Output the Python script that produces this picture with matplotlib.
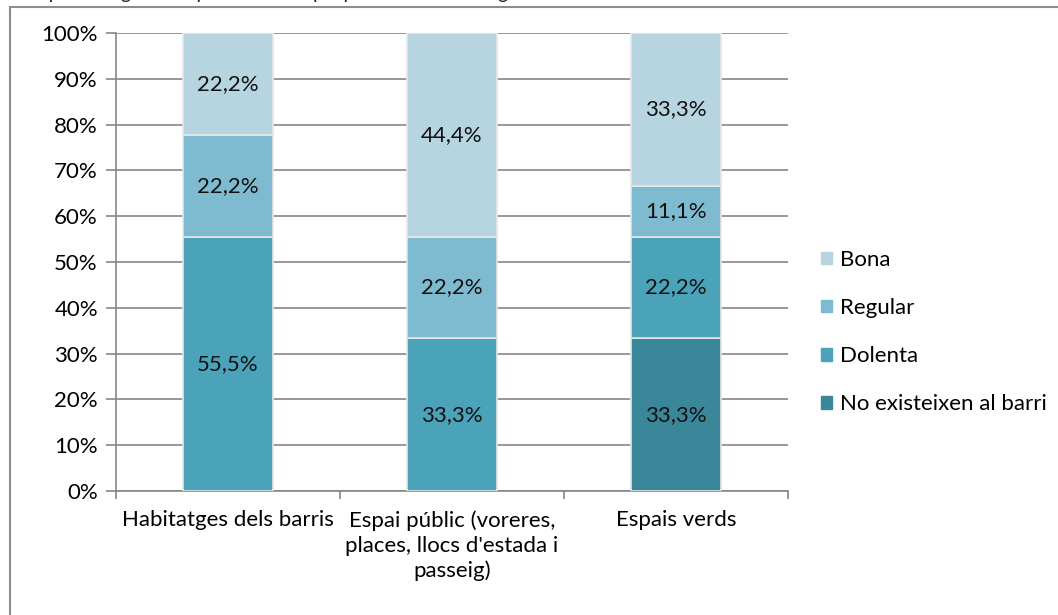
import matplotlib
matplotlib.use('Agg')
import matplotlib.pyplot as plt
from matplotlib.patches import Rectangle, Patch
import numpy as np

plt.rcParams['font.family'] = ['Lato', 'DejaVu Sans']

# dades
categories = ['Habitatges dels barris',
              "Espai públic (voreres,\nplaces, llocs d'estada i\npasseig)",
              'Espais verds']
series = ['No existeixen al barri', 'Dolenta', 'Regular', 'Bona']
no_existeixen = [0.0, 0.0, 33.3]
dolenta = [55.5, 33.3, 22.2]
regular = [22.2, 22.2, 11.1]
bona = [22.2, 44.4, 33.3]
colors = ['#3a8799', '#4ba3ba', '#7fbbd0', '#b7d5e0']
y_ticks = [0, 10, 20, 30, 40, 50, 60, 70, 80, 90, 100]

values = np.array([no_existeixen, dolenta, regular, bona])
totals = values.sum(axis=0)
pct = values / totals * 100

FS = 16

fig = plt.figure(figsize=(10.58, 6.15), dpi=100)
ax = fig.add_axes([0.1096, 0.2016, 0.6352, 0.7447])

# marc exterior
fig.patches.append(Rectangle((10 / 1058, -0.05), 1.1, 1 - 7 / 615 + 0.05,
                             transform=fig.transFigure, fill=False,
                             edgecolor='#8c8c8c', lw=1.5))
# títol (tallat a la part superior, com a l'original)
fig.text(0.0, 1 + 1 / 615, "Percepció del grau de qualitat de l'espai públic i els habitatges del barri",
         fontsize=14, va='baseline', ha='left', color='#222222')

x = np.arange(len(categories))
bottom = np.zeros(len(categories))
for i, name in enumerate(series):
    ax.bar(x, pct[i], 0.4, bottom=bottom, color=colors[i], label=name,
           edgecolor='#e6e6e6', linewidth=1.2, zorder=3)
    for j in range(len(categories)):
        if values[i][j] > 0:
            ax.text(x[j], bottom[j] + pct[i][j] / 2,
                    ('%.1f' % values[i][j]).replace('.', ',') + '%',
                    ha='center', va='center', fontsize=FS, color='#111111', zorder=4)
    bottom += pct[i]

ax.set_xlim(-0.5, 2.5)
ax.set_ylim(0, 100)
ax.set_yticks(y_ticks)
ax.set_yticklabels(['%d%%' % t for t in y_ticks], fontsize=FS)
ax.set_xticks([-0.5, 0.5, 1.5, 2.5], minor=False)
ax.set_xticklabels([])
ax.set_xticks(x, minor=True)
ax.set_xticklabels(categories, minor=True, fontsize=FS, linespacing=1.3)
ax.tick_params(axis='x', which='minor', length=0, pad=14)
ax.tick_params(axis='x', which='major', length=6, color='#868686', width=1.2)
ax.tick_params(axis='y', length=7, color='#868686', width=1.2, pad=6)
ax.grid(axis='y', color='#868686', lw=1.2, zorder=0)
for s in ['top', 'right']:
    ax.spines[s].set_visible(False)
for s in ['left', 'bottom']:
    ax.spines[s].set_color('#868686')
    ax.spines[s].set_linewidth(1.2)

handles = [Patch(color=colors[i], label=series[i]) for i in range(3, -1, -1)]
fig.legend(handles=handles, loc='center left', bbox_to_anchor=(0.757, 0.46),
           frameon=False, fontsize=FS, labelspacing=1.27, handlelength=0.5,
           handleheight=0.5, handletextpad=0.35)

fig.savefig('out.png', dpi=100)
